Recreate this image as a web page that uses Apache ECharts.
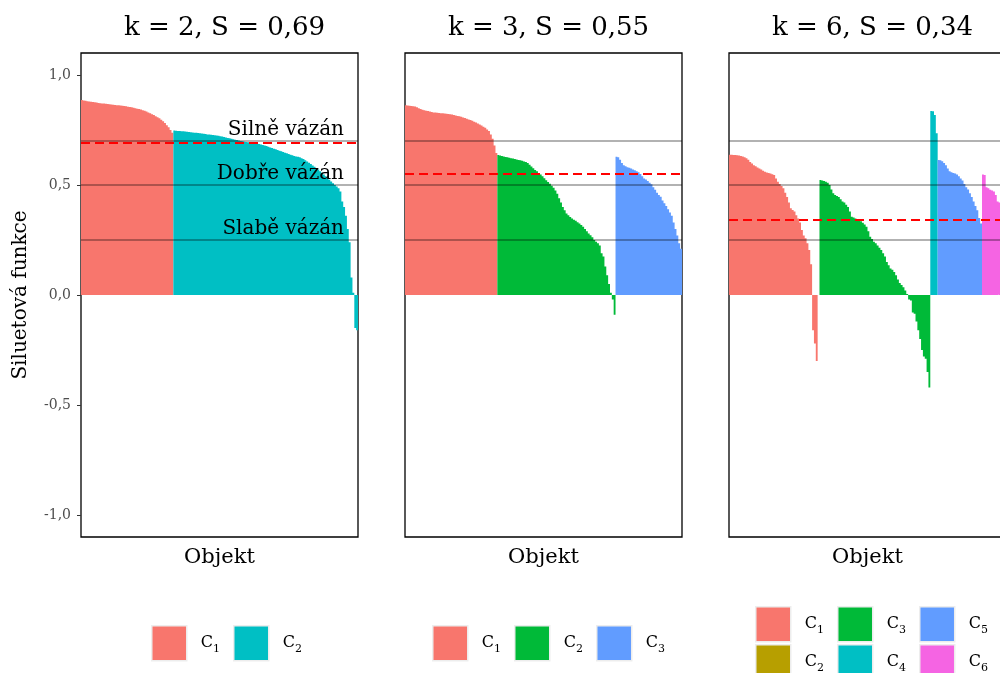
<!DOCTYPE html>
<html>
<head>
<meta charset="utf-8">
<script src="https://cdn.jsdelivr.net/npm/echarts@6/dist/echarts.min.js"></script>
<style>
  html, body { margin: 0; padding: 0; background: #fff; }
  #chart { width: 1000px; height: 673px; }
</style>
</head>
<body>
<div id="chart"></div>
<script>
// silueta pro kazdy objekt (serazeno v ramci shluku), 150 objektu
var nObj = 150;

// k = 2
var k2_C1 = [
  0.886, 0.884, 0.883, 0.881, 0.880, 0.878, 0.877, 0.876, 0.875, 0.873,
  0.872, 0.871, 0.870, 0.869, 0.868, 0.867, 0.866, 0.865, 0.864, 0.863,
  0.862, 0.861, 0.860, 0.859, 0.858, 0.856, 0.855, 0.853, 0.851, 0.849,
  0.847, 0.845, 0.843, 0.840, 0.837, 0.834, 0.830, 0.826, 0.822, 0.818,
  0.813, 0.808, 0.803, 0.797, 0.790, 0.782, 0.772, 0.762, 0.750, 0.738
];
var k2_C2 = [
  0.748, 0.747, 0.746, 0.745, 0.744, 0.744, 0.743, 0.742, 0.741, 0.740,
  0.739, 0.738, 0.737, 0.736, 0.735, 0.734, 0.733, 0.732, 0.730, 0.729,
  0.728, 0.727, 0.726, 0.725, 0.724, 0.722, 0.720, 0.718, 0.716, 0.714,
  0.712, 0.710, 0.708, 0.706, 0.704, 0.702, 0.700, 0.699, 0.697, 0.695,
  0.694, 0.693, 0.692, 0.691, 0.690, 0.688, 0.686, 0.684, 0.682, 0.680,
  0.677, 0.674, 0.671, 0.668, 0.665, 0.662, 0.659, 0.656, 0.653, 0.650,
  0.647, 0.644, 0.641, 0.638, 0.635, 0.632, 0.630, 0.628, 0.626, 0.622,
  0.618, 0.613, 0.607, 0.601, 0.595, 0.589, 0.583, 0.577, 0.570, 0.563,
  0.556, 0.548, 0.540, 0.532, 0.524, 0.516, 0.508, 0.500, 0.493, 0.485,
  0.470, 0.425, 0.400, 0.360, 0.300, 0.240, 0.080, 0.010, -0.150, -0.160
];

// k = 3
var k3_C1 = [
  0.862, 0.861, 0.860, 0.859, 0.858, 0.857, 0.853, 0.849, 0.845, 0.842,
  0.840, 0.838, 0.836, 0.834, 0.832, 0.830, 0.829, 0.828, 0.827, 0.826,
  0.826, 0.825, 0.824, 0.823, 0.822, 0.820, 0.818, 0.816, 0.814, 0.812,
  0.810, 0.807, 0.804, 0.801, 0.798, 0.795, 0.792, 0.788, 0.784, 0.779,
  0.775, 0.770, 0.765, 0.760, 0.752, 0.745, 0.730, 0.710, 0.680, 0.645
];
var k3_C2 = [
  0.636, 0.634, 0.632, 0.629, 0.627, 0.626, 0.624, 0.622, 0.620, 0.618,
  0.616, 0.614, 0.612, 0.610, 0.607, 0.604, 0.600, 0.592, 0.584, 0.576,
  0.568, 0.562, 0.555, 0.548, 0.540, 0.531, 0.522, 0.514, 0.506, 0.497,
  0.487, 0.475, 0.460, 0.440, 0.420, 0.400, 0.385, 0.370, 0.362, 0.355,
  0.348, 0.342, 0.337, 0.331, 0.325, 0.318, 0.310, 0.300, 0.290, 0.280,
  0.272, 0.262, 0.250, 0.242, 0.235, 0.225, 0.190, 0.175, 0.130, 0.090,
  0.050, 0.010, -0.020, -0.090
];
var k3_C3 = [
  0.628, 0.626, 0.615, 0.600, 0.590, 0.585, 0.581, 0.578, 0.575, 0.571,
  0.567, 0.563, 0.558, 0.550, 0.540, 0.530, 0.525, 0.518, 0.510, 0.503,
  0.490, 0.478, 0.465, 0.455, 0.447, 0.430, 0.417, 0.405, 0.390, 0.375,
  0.360, 0.330, 0.300, 0.270, 0.235, 0.210
];

// k = 6
var k6_C1 = [
  0.637, 0.637, 0.636, 0.636, 0.635, 0.634, 0.632, 0.629, 0.626, 0.622,
  0.615, 0.605, 0.598, 0.590, 0.585, 0.580, 0.575, 0.570, 0.565, 0.560,
  0.557, 0.554, 0.552, 0.549, 0.545, 0.530, 0.515, 0.505, 0.495, 0.485,
  0.465, 0.445, 0.420, 0.394, 0.386, 0.379, 0.362, 0.348, 0.330, 0.295,
  0.270, 0.258, 0.235, 0.205, 0.140, -0.160, -0.220, -0.300
];
var k6_C2 = [0];
var k6_C3 = [
  0.523, 0.520, 0.518, 0.515, 0.510, 0.500, 0.480, 0.462, 0.455, 0.450,
  0.445, 0.435, 0.425, 0.420, 0.410, 0.400, 0.380, 0.356, 0.352, 0.348,
  0.344, 0.340, 0.335, 0.328, 0.320, 0.310, 0.290, 0.265, 0.255, 0.242,
  0.235, 0.225, 0.215, 0.205, 0.190, 0.175, 0.150, 0.135, 0.120, 0.115,
  0.105, 0.090, 0.070, 0.055, 0.045, 0.035, 0.020, 0.005, -0.020, -0.025,
  -0.080, -0.085, -0.120, -0.160, -0.200, -0.250, -0.280, -0.290, -0.350, -0.420
];
var k6_C4 = [0.836, 0.835, 0.818, 0.735];
var k6_C5 = [
  0.614, 0.612, 0.608, 0.600, 0.590, 0.575, 0.562, 0.558, 0.555, 0.552,
  0.548, 0.540, 0.530, 0.520, 0.505, 0.490, 0.480, 0.462, 0.445, 0.425,
  0.405, 0.385, 0.350, 0.325
];
var k6_C6 = [
  0.548, 0.545, 0.490, 0.485, 0.478, 0.475, 0.470, 0.455, 0.425, 0.420,
  0.240, 0.200, 0.170
];

var kValues = [2, 3, 6];
var meanS = [0.69, 0.55, 0.34];
var refLevels = [0.7, 0.5, 0.25];
var refLabels = ['Silně vázán', 'Dobře vázán', 'Slabě vázán'];
var yTicks = [-1, -0.5, 0, 0.5, 1];
var hue6 = ['#F8766D', '#B79F00', '#00BA38', '#00BFC4', '#619CFF', '#F564E3'];
var hue3 = ['#F8766D', '#00BA38', '#619CFF'];
var hue2 = ['#F8766D', '#00BFC4'];

var panels = [
  { clusters: [k2_C1, k2_C2], colors: hue2 },
  { clusters: [k3_C1, k3_C2, k3_C3], colors: hue3 },
  { clusters: [k6_C1, k6_C2, k6_C3, k6_C4, k6_C5, k6_C6], colors: hue6 }
];

var serif = 'DejaVu Serif';
var panelLeft = [81, 405, 729];
var panelW = 277;
var panelTop = 53;
var panelH = 484;

var cats = [];
for (var i = 1; i <= nObj; i++) cats.push(i);

function fmtNum(v, d) {
    return v.toFixed(d).replace('.', ',');
}

var grids = [], xAxes = [], yAxes = [], series = [], titles = [], legends = [];

panels.forEach(function (p, pi) {
    grids.push({
        left: panelLeft[pi], top: panelTop, width: panelW, height: panelH,
        outerBoundsMode: 'none', containLabel: false,
        show: true, borderColor: '#000', borderWidth: 1.3, backgroundColor: 'transparent'
    });
    xAxes.push({
        gridIndex: pi, type: 'category', data: cats, boundaryGap: true,
        axisLine: { show: false }, axisTick: { show: false }, axisLabel: { show: false },
        splitLine: { show: false },
        name: 'Objekt', nameLocation: 'middle', nameGap: 10,
        nameTextStyle: { fontFamily: serif, fontSize: 21, color: '#000' }
    });
    yAxes.push({
        gridIndex: pi, type: 'value', min: -1.1, max: 1.1,
        axisLine: { show: false },
        splitLine: { show: false },
        axisTick: { show: pi === 0, length: 4, customValues: yTicks, lineStyle: { color: '#333', width: 1 } },
        axisLabel: {
            show: pi === 0, customValues: yTicks, margin: 10,
            formatter: function (v) { return fmtNum(v, 1); },
            fontFamily: serif, fontSize: 14, color: '#4d4d4d'
        },
        name: pi === 0 ? 'Siluetová funkce' : '', nameLocation: 'middle', nameRotate: 90, nameGap: 50,
        nameTextStyle: { fontFamily: serif, fontSize: 20, color: '#000' }
    });
    titles.push({
        text: 'k = ' + kValues[pi] + ', S = ' + fmtNum(meanS[pi], 2),
        left: panelLeft[pi] + panelW / 2, top: 10, textAlign: 'center',
        textStyle: { fontFamily: serif, fontSize: 26, fontWeight: 'normal', color: '#000' }
    });

    var offset = 0;
    var names = [];
    p.clusters.forEach(function (vals, ci) {
        var data = [];
        for (var j = 0; j < nObj; j++) data.push('-');
        vals.forEach(function (v, j) { data[offset + j] = v; });
        offset += vals.length;
        var name = 'C' + (ci + 1) + '_k' + kValues[pi];
        names.push(name);
        // large = jedna cesta, bez svetlych spar mezi sloupci
        var s = {
            name: name, type: 'bar', xAxisIndex: pi, yAxisIndex: pi, data: data,
            barCategoryGap: '0%', barGap: '-100%',
            large: true, largeThreshold: 1,
            itemStyle: { color: p.colors[ci] },
            silent: true
        };
        if (ci === 0) {
            var ml = refLevels.map(function (lv, li) {
                return {
                    yAxis: lv,
                    lineStyle: { color: 'rgba(0,0,0,0.3)', width: 2, type: 'solid' },
                    label: {
                        show: pi === 0, position: 'insideEndTop', formatter: refLabels[li],
                        distance: [14, 1], fontFamily: serif, fontSize: 20, color: '#000'
                    }
                };
            });
            ml.push({
                yAxis: meanS[pi],
                lineStyle: { color: '#ff0000', width: 2, type: [9, 5] },
                label: { show: false }
            });
            s.markLine = { symbol: ['none', 'none'], silent: true, animation: false, data: ml };
        }
        series.push(s);
    });

    var legendBase = {
        icon: 'rect', itemWidth: 35, itemHeight: 35, itemGap: 13, orient: 'horizontal',
        padding: 0, width: 320, selectedMode: false,
        itemStyle: { borderColor: '#ededed', borderWidth: 1.5 },
        formatter: function (name) {
            return '{m|C}{s|' + name.split('_')[0].slice(1) + '}';
        },
        textStyle: {
            padding: [0, 0, 0, 9],
            rich: {
                m: { fontFamily: serif, fontSize: 16, color: '#000' },
                s: { fontFamily: serif, fontSize: 11, color: '#000', padding: [12, 0, 0, 0] }
            }
        }
    };
    if (pi < 2) {
        legends.push(Object.assign({}, legendBase, {
            left: pi === 0 ? 151 : 432, top: 625, data: names
        }));
    } else {
        legends.push(Object.assign({}, legendBase, {
            left: 755, top: 606, data: [names[0], names[2], names[4]]
        }));
        legends.push(Object.assign({}, legendBase, {
            left: 755, top: 644, data: [names[1], names[3], names[5]]
        }));
    }
});

var mychart = echarts.init(document.getElementById('chart'), null, { renderer: 'canvas' });
mychart.setOption({
    animation: false,
    backgroundColor: '#fff',
    title: titles,
    legend: legends,
    grid: grids,
    xAxis: xAxes,
    yAxis: yAxes,
    series: series
});
</script>
</body>
</html>
